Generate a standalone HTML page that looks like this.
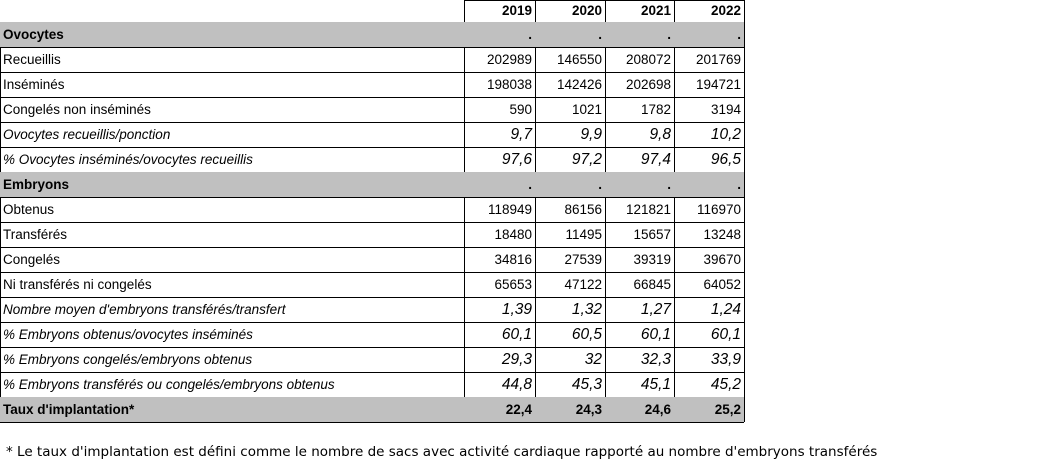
<!DOCTYPE html>
<html><head><meta charset="utf-8"><style>
body{margin:0;width:1039px;height:468px;background:#fff;position:relative;overflow:hidden;font-family:"Liberation Sans",Arial,sans-serif;color:#000}
.c{position:absolute;box-sizing:border-box;font-size:13.5px;line-height:1;display:flex;align-items:center;white-space:nowrap}
.l{padding-left:3px}
.n{justify-content:flex-end;padding-right:3px}
.g{background:#c0c0c0}
.b{font-weight:bold}
.i{font-style:italic}
.in{font-style:italic;font-size:15.5px}
#foot{position:absolute;left:6px;top:444px;font-family:"DejaVu Sans","Liberation Sans",sans-serif;font-size:13.5px;white-space:nowrap}
</style></head><body>
<svg id="grid" width="1039" height="468" style="position:absolute;left:0;top:0"></svg>
<div id="t"></div>
<div id="foot">* Le taux d'implantation est défini comme le nombre de sacs avec activité cardiaque rapporté au nombre d'embryons transférés</div>
<script>
const years=["2019","2020","2021","2022"];
const labels=["Ovocytes","Recueillis","Inséminés","Congelés non inséminés","Ovocytes recueillis/ponction","% Ovocytes inséminés/ovocytes recueillis","Embryons","Obtenus","Transférés","Congelés","Ni transférés ni congelés","Nombre moyen d'embryons transférés/transfert","% Embryons obtenus/ovocytes inséminés","% Embryons congelés/embryons obtenus","% Embryons transférés ou congelés/embryons obtenus","Taux d'implantation*"];
const kinds=["h","n","n","n","i","i","h","n","n","n","n","i","i","i","i","t"];
const v2019=[".","202989","198038","590","9,7","97,6",".","118949","18480","34816","65653","1,39","60,1","29,3","44,8","22,4"];
const v2020=[".","146550","142426","1021","9,9","97,2",".","86156","11495","27539","47122","1,32","60,5","32","45,3","24,3"];
const v2021=[".","208072","202698","1782","9,8","97,4",".","121821","15657","39319","66845","1,27","60,1","32,3","45,1","24,6"];
const v2022=[".","201769","194721","3194","10,2","96,5",".","116970","13248","39670","64052","1,24","60,1","33,9","45,2","25,2"];
const cols=[v2019,v2020,v2021,v2022];
const xs=[0,464,535,605,674,744];
const rowTop=i=>22+i*25;
const t=document.getElementById('t');
const svg=document.getElementById('grid');
function cell(x,y,w,h,cls,txt,name){
  const d=document.createElement('div');
  d.className='c '+cls;
  d.style.left=x+'px';d.style.top=y+'px';d.style.width=w+'px';d.style.height=h+'px';
  d.textContent=txt;
  
  
  t.appendChild(d);
}
// header
cell(0,0,464,22,'l','', 'header-blank');
years.forEach((y,j)=>cell(xs[j+1],0,xs[j+2]-xs[j+1],22,'n b',y,'year-header-'+y));
labels.forEach((lab,i)=>{
  const k=kinds[i];const y=rowTop(i);
  const shaded=(k==='h'||k==='t');
  const lc='l'+(shaded?' g b':'')+(k==='i'?' i':'');
  cell(0,y,464,25,lc,lab,'row-label-'+i);
  cols.forEach((c,j)=>{
    let vc='n'+(shaded?' g b':'')+(k==='i'?' in':'');
    cell(xs[j+1],y,xs[j+2]-xs[j+1],25,vc,c[i],'cell-'+years[j]+'-'+i);
  });
});
// grid lines
const NS='http://www.w3.org/2000/svg';
function line(x1,y1,x2,y2){const l=document.createElementNS(NS,'line');
l.setAttribute('x1',x1);l.setAttribute('y1',y1);l.setAttribute('x2',x2);l.setAttribute('y2',y2);
l.setAttribute('stroke','#000');l.setAttribute('stroke-width','1');


svg.appendChild(l);}
const bottom=rowTop(labels.length);
line(464,0.5,744,0.5);
for(let i=0;i<=labels.length;i++){const y=rowTop(i)+0.5;line(0,y,744,y);}
line(0.5,22,0.5,bottom);
xs.slice(1).forEach(x=>line(x+0.5,0,x+0.5,bottom));
document.body.appendChild(t);document.body.appendChild(document.getElementById('foot'));
</script>
</body></html>
